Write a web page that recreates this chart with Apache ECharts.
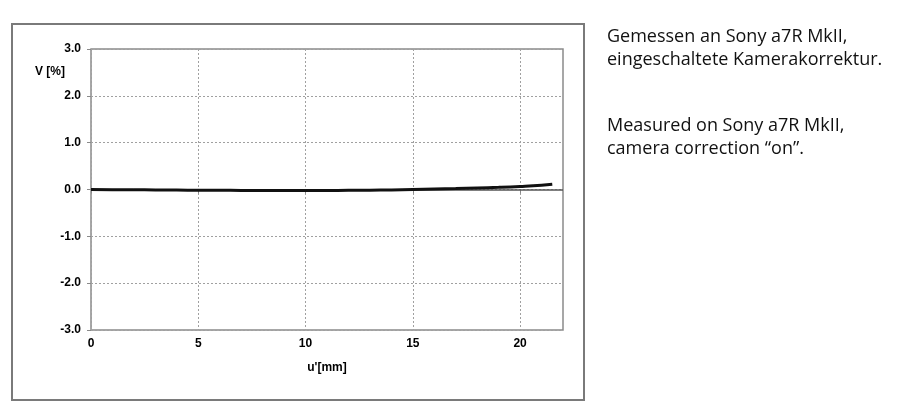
<!DOCTYPE html>
<html><head><meta charset="utf-8">
<script src="https://cdn.jsdelivr.net/npm/echarts@6/dist/echarts.min.js"></script>
<style>html,body{margin:0;padding:0;background:#fff}#c{width:900px;height:417px}</style>
</head><body><div id="c"></div>
<script>
const xValues = [0, 1, 2, 3, 4, 5, 6, 7, 8, 9, 10, 11, 12, 13, 14, 15, 16, 17, 18, 19, 20, 21, 21.5];
const vValues = [0.0, -0.003, -0.006, -0.009, -0.012, -0.015, -0.017, -0.019, -0.02, -0.02, -0.02, -0.02, -0.018, -0.015, -0.01, 0.0, 0.01, 0.02, 0.032, 0.046, 0.065, 0.09, 0.11];
const xTicks = [0, 5, 10, 15, 20];
const yTicks = [-3, -2, -1, 0, 1, 2, 3];
const noteLines = ["Gemessen an Sony a7R MkII,", "eingeschaltete Kamerakorrektur.", "Measured on Sony a7R MkII,", "camera correction \u201Con\u201D."];
const xTitle = "u'[mm]";
const yTitle = "V [%]";

const chart = echarts.init(document.getElementById('c'), null, {renderer: 'canvas'});
const lbl = {fontFamily: 'Liberation Sans, Arial, sans-serif', fontWeight: 'bold', fontSize: 12, color: '#000'};
const noteFont = '18px "Open Sans", sans-serif';
chart.setOption({
  animation: false,
  grid: {left: 91, top: 49, width: 472, height: 281, show: true, borderColor: '#8a8a8a', borderWidth: 1.5, backgroundColor: '#fff'},
  xAxis: {
    type: 'value', min: 0, max: 22, interval: 5,
    axisLine: {show: false},
    axisTick: {show: true, length: 4, lineStyle: {color: '#8a8a8a'}, customValues: xTicks},
    axisLabel: Object.assign({margin: 8, customValues: xTicks, formatter: v => String(v)}, lbl),
    splitLine: {show: true, lineStyle: {type: [2, 2], color: '#a0a0a0', width: 1}},
    name: xTitle, nameLocation: 'middle', nameGap: 32,
    nameTextStyle: lbl
  },
  yAxis: {
    type: 'value', min: -3, max: 3, interval: 1,
    axisLine: {show: false},
    axisTick: {show: true, length: 4, lineStyle: {color: '#8a8a8a'}},
    axisLabel: Object.assign({margin: 10, formatter: v => v.toFixed(1)}, lbl),
    splitLine: {show: true, lineStyle: {type: [2, 2], color: '#a0a0a0', width: 1}}
  },
  series: [{
    type: 'line',
    data: xValues.map((x, i) => [x, vValues[i]]),
    showSymbol: false, smooth: true,
    lineStyle: {color: '#111', width: 3},
    z: 5,
    markLine: {
      silent: true, symbol: 'none', label: {show: false},
      lineStyle: {color: '#555', width: 1.5, type: 'solid'},
      data: [{yAxis: 0}], z: 4
    }
  }],
  graphic: [
    {type: 'rect', shape: {x: 12, y: 24, width: 572, height: 376}, style: {fill: 'none', stroke: '#7a7a7a', lineWidth: 2}, z: -1},
    {type: 'text', x: 35, y: 72, style: {text: yTitle, fill: '#000', font: 'bold 12px Liberation Sans, Arial, sans-serif', verticalAlign: 'middle'}},
    {type: 'text', x: 607, y: 37, style: {text: noteLines[0], fill: '#111', font: noteFont, verticalAlign: 'middle'}},
    {type: 'text', x: 607, y: 60, style: {text: noteLines[1], fill: '#111', font: noteFont, verticalAlign: 'middle'}},
    {type: 'text', x: 607, y: 126, style: {text: noteLines[2], fill: '#111', font: noteFont, verticalAlign: 'middle'}},
    {type: 'text', x: 607, y: 149, style: {text: noteLines[3], fill: '#111', font: noteFont, verticalAlign: 'middle'}}
  ]
});
</script></body></html>
